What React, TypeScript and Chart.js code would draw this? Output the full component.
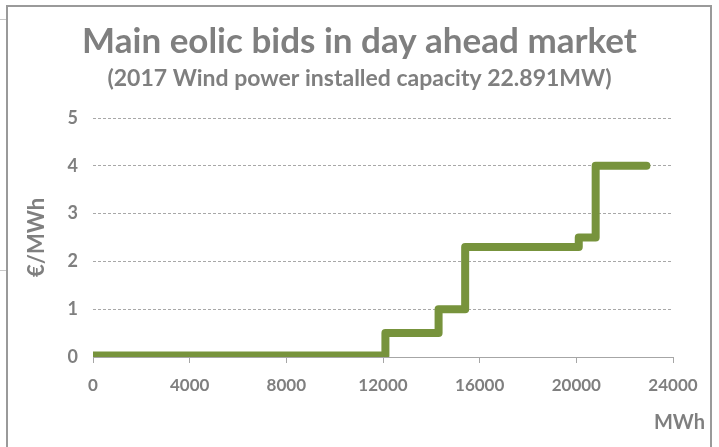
import React, { useEffect, useRef } from "react";
import { Chart, registerables } from "chart.js";

Chart.register(...registerables);

const chartTitle = "Main eolic bids in day ahead market";
const chartSubtitle = "(2017 Wind power installed capacity 22.891MW)";
const xAxisTitle = "MWh";
const yAxisTitle = "€/MWh";

// cumulative offered energy (MWh) where each price step begins
const bidVolumeMWh = [0, 12100, 14300, 15400, 20100, 20800, 22900];
// bid price (€/MWh) reached at each step
const bidPriceEur = [0.03, 0.5, 1.0, 2.3, 2.5, 4.0, 4.0];

const xTicks = [0, 4000, 8000, 12000, 16000, 20000, 24000];
const yTicks = [0, 1, 2, 3, 4, 5];

const GRAY_TEXT = "#7f7f7f";
const FONT = "Lato, 'Open Sans', sans-serif";

export default function App() {
  const ref = useRef<HTMLCanvasElement | null>(null);

  useEffect(() => {
    if (!ref.current) return;
    const unitPlugin = {
      id: "unitLabel",
      afterDraw(chart: any) {
        const ctx = chart.ctx;
        const xs = chart.scales.x;
        ctx.save();
        ctx.font = `bold 20px ${FONT}`;
        ctx.fillStyle = GRAY_TEXT;
        ctx.textAlign = "right";
        ctx.textBaseline = "middle";
        ctx.fillText(xAxisTitle, xs.right + 32, xs.bottom - 24);
        ctx.restore();
      },
    };
    const chart = new Chart(ref.current, {
      type: "line",
      data: {
        datasets: [
          {
            data: bidVolumeMWh.map((v, i) => ({ x: v, y: bidPriceEur[i] })),
            borderColor: "#77933c",
            borderWidth: 8,
            borderCapStyle: "round",
            borderJoinStyle: "round",
            pointRadius: 0,
            stepped: true,
            fill: false,
            yAxisID: "y",
          },
        ],
      },
      options: {
        responsive: false,
        animation: false,
        layout: { padding: 0 },
        plugins: {
          legend: { display: false },
          tooltip: { enabled: false },
          title: {
            display: true,
            text: chartTitle,
            color: GRAY_TEXT,
            font: { family: FONT, size: 35, weight: "bold" },
            padding: { top: 21, bottom: 1.1 },
          },
          subtitle: {
            display: true,
            text: chartSubtitle,
            color: GRAY_TEXT,
            font: { family: FONT, size: 23, weight: "bold" },
            padding: { top: 1.1, bottom: 25.2 },
          },
        },
        scales: {
          x: {
            type: "linear",
            min: xTicks[0],
            max: xTicks[xTicks.length - 1],
            afterBuildTicks: (s: any) => {
              s.ticks = xTicks.map((v) => ({ value: v }));
            },
            afterFit: (s: any) => {
              s.height = 90;
            },
            grid: {
              drawOnChartArea: false,
              drawTicks: true,
              tickLength: 6,
              color: "#a6a6a6",
            },
            border: { display: true, color: "#a6a6a6", width: 1 },
            ticks: {
              color: GRAY_TEXT,
              font: { family: FONT, size: 17, weight: "bold" },
              padding: 12,
              maxRotation: 0,
              callback: (v: any) => String(v),
            },
          },
          y: {
            type: "linear",
            position: "left",
            min: yTicks[0],
            max: yTicks[yTicks.length - 1],
            afterBuildTicks: (s: any) => {
              s.ticks = yTicks.map((v) => ({ value: v }));
            },
            afterFit: (s: any) => {
              s.width = 93;
            },
            grid: {
              drawTicks: false,
              color: "#a8a8a8",
              lineWidth: 1,
            },
            border: { display: false, dash: [3, 2] },
            ticks: {
              color: GRAY_TEXT,
              font: { family: FONT, size: 18, weight: "bold" },
              padding: 15,
              callback: (v: any) => String(v),
            },
            title: {
              display: true,
              text: yAxisTitle,
              color: GRAY_TEXT,
              font: { family: FONT, size: 22, weight: "bold" },
              padding: { top: 24, bottom: 0 },
            },
          },
          spacer: {
            type: "linear",
            position: "right",
            display: true,
            grid: { display: false, drawTicks: false },
            border: { display: false },
            ticks: { display: false },
            afterFit: (s: any) => {
              s.width = 46;
            },
          },
        },
      },
      plugins: [unitPlugin],
    } as any);
    return () => chart.destroy();
  }, []);

  return (
    <div
      style={{
        position: "absolute",
        left: 0,
        top: 0,
        width: 719,
        height: 447,
        overflow: "hidden",
        background: "#ffffff",
      }}
    >
      <div style={{ position: "absolute", left: 0, top: 19, width: 6, height: 1, background: "#c8c8c8" }} />
      <div style={{ position: "absolute", left: 0, top: 270, width: 7, height: 1, background: "#c8c8c8" }} />
      <div
        style={{
          position: "absolute",
          left: 6,
          top: 5,
          width: 706,
          height: 470,
          border: "2px solid #9a9a9a",
          boxSizing: "border-box",
        }}
      />
      <canvas
        ref={ref}
        width={719}
        height={447}
        style={{ position: "absolute", left: 0, top: 0, width: 719, height: 447 }}
      />
    </div>
  );
}
